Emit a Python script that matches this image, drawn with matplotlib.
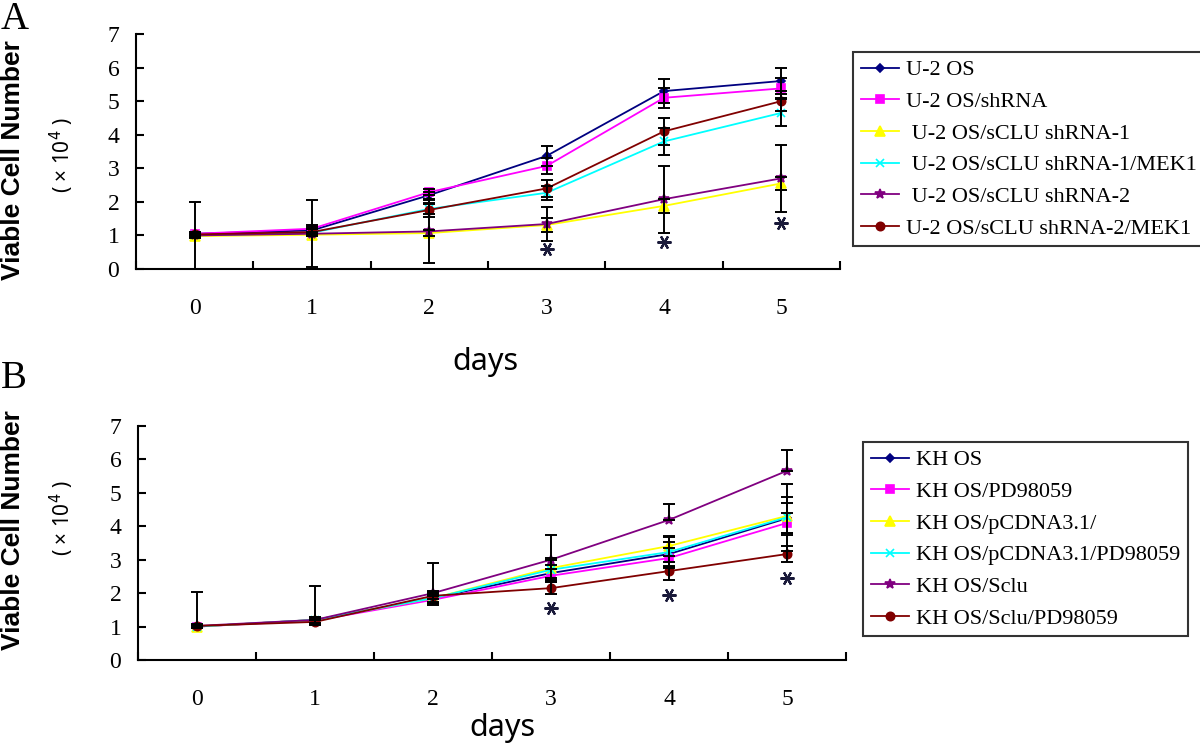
"""
Viable cell number growth curves, panels A and B
"""

import numpy as np
import matplotlib
matplotlib.use('Agg')
import matplotlib.pyplot as plt

DAYS = [0, 1, 2, 3, 4, 5]
DAY_LABELS = ['0', '1', '2', '3', '4', '5']
Y_TICKS = [0, 1, 2, 3, 4, 5, 6, 7]

# Panel A series (x10^4 cells)
A_LABELS = ['U-2 OS', 'U-2 OS/shRNA', ' U-2 OS/sCLU shRNA-1',
            ' U-2 OS/sCLU shRNA-1/MEK1', ' U-2 OS/sCLU shRNA-2',
            'U-2 OS/sCLU shRNA-2/MEK1']
A_U2OS = [1.05, 1.15, 2.20, 3.37, 5.30, 5.60]
A_SHRNA = [1.05, 1.20, 2.29, 3.07, 5.10, 5.38]
A_SCLU1 = [0.98, 1.02, 1.07, 1.31, 1.88, 2.55]
A_SCLU1_MEK = [1.00, 1.08, 1.79, 2.27, 3.80, 4.65]
A_SCLU2 = [1.00, 1.05, 1.12, 1.34, 2.08, 2.70]
A_SCLU2_MEK = [1.03, 1.10, 1.76, 2.40, 4.10, 5.00]

A_ERR_U2OS = [0.05, 0.10, 0.10, 0.30, 0.35, 0.40]
A_ERR_SHRNA = [0.05, 0.10, 0.10, 0.25, 0.30, 0.30]
A_ERR_SCLU1 = [0.05, 0.05, 0.10, 0.20, 0.20, 0.20]
A_ERR_SCLU1_MEK = [0.05, 0.10, 0.15, 0.20, 0.40, 0.40]
A_ERR_SCLU2 = [1.00, 1.00, 0.95, 0.50, 1.00, 1.00]
A_ERR_SCLU2_MEK = [0.05, 0.10, 0.20, 0.25, 0.40, 0.30]

A_STAR_DAYS = [3, 4, 5]
A_STAR_Y = [0.60, 0.80, 1.37]

# Panel B series
B_LABELS = ['KH OS', 'KH OS/PD98059', 'KH OS/pCDNA3.1/',
            'KH OS/pCDNA3.1/PD98059', 'KH OS/Sclu', 'KH OS/Sclu/PD98059']
B_KHOS = [1.00, 1.20, 1.85, 2.60, 3.17, 4.24]
B_PD = [1.00, 1.18, 1.80, 2.52, 3.05, 4.10]
B_PCDNA = [1.00, 1.20, 1.85, 2.75, 3.41, 4.31]
B_PCDNA_PD = [1.00, 1.20, 1.85, 2.70, 3.23, 4.27]
B_SCLU = [1.02, 1.20, 2.00, 3.00, 4.19, 5.66]
B_SCLU_PD = [1.02, 1.14, 1.92, 2.15, 2.66, 3.17]

B_ERR_KHOS = [0.05, 0.10, 0.10, 0.25, 0.35, 0.45]
B_ERR_PD = [0.05, 0.10, 0.10, 0.20, 0.30, 0.30]
B_ERR_PCDNA = [0.05, 0.10, 0.15, 0.30, 0.30, 0.56]
B_ERR_PCDNA_PD = [0.05, 0.10, 0.20, 0.30, 0.45, 1.00]
B_ERR_SCLU = [1.00, 1.00, 0.90, 0.74, 0.48, 0.63]   # plus direction only
B_ERR_SCLU_PD = [0.05, 0.10, 0.10, 0.17, 0.26, 0.25]

B_STAR_DAYS = [3, 4, 5]
B_STAR_Y = [1.55, 1.95, 2.45]

COLORS = ['#000080', '#FF00FF', '#FFFF00', '#00FFFF', '#800080', '#800000']
MARKERS = ['D', 's', '^', 'x', '*', 'o']
MSIZES = [4.5, 5.5, 6.5, 5.5, 7, 6]

SERIF = 'Liberation Serif'
SANS = 'Liberation Sans'


def draw_panel(ax, series, errors, labels, plus_only, star_days, star_y):
    x = np.array(DAYS)
    for i, (vals, err, lab) in enumerate(zip(series, errors, labels)):
        ax.plot(x, vals, color=COLORS[i], marker=MARKERS[i], ms=MSIZES[i],
                mew=1.2, lw=1.3, label=lab, zorder=3)
        err = np.array(err)
        if i in plus_only:
            yerr = [np.zeros_like(err), err]
        else:
            yerr = err
        ax.errorbar(x, vals, yerr=yerr, fmt='none', ecolor='black',
                    elinewidth=1.4, capsize=4, capthick=1.4, zorder=4)
    # significance asterisks
    ax.plot(star_days, star_y, ls='none', marker=(6, 2, 90), ms=10, mew=1.6,
            color='#1a1a3a', zorder=5)

    ax.set_xlim(-0.5, 5.5)
    ax.set_ylim(0, 7)
    ax.spines['top'].set_visible(False)
    ax.spines['right'].set_visible(False)
    for s in ['left', 'bottom']:
        ax.spines[s].set_linewidth(1.5)
    ax.set_xticks(x)
    ax.set_xticklabels(DAY_LABELS, family=SERIF, fontsize=17)
    ax.set_xticks(np.arange(-0.5, 6.0, 1.0), minor=True)
    ax.tick_params(axis='x', which='major', length=0, pad=21)
    ax.tick_params(axis='x', which='minor', direction='in', length=6, width=1.5)
    ax.set_yticks(Y_TICKS)
    ax.set_yticklabels([str(t) for t in Y_TICKS], family=SERIF, fontsize=17)
    ax.tick_params(axis='y', direction='in', length=6, width=1.5, pad=12)


fig = plt.figure(figsize=(12, 7.5), dpi=100)

axA = fig.add_axes([136 / 1200, 1 - 269 / 750, 704 / 1200, 235 / 750])
draw_panel(axA,
           [A_U2OS, A_SHRNA, A_SCLU1, A_SCLU1_MEK, A_SCLU2, A_SCLU2_MEK],
           [A_ERR_U2OS, A_ERR_SHRNA, A_ERR_SCLU1, A_ERR_SCLU1_MEK, A_ERR_SCLU2, A_ERR_SCLU2_MEK],
           A_LABELS, [], A_STAR_DAYS, A_STAR_Y)

axB = fig.add_axes([138 / 1200, 1 - 660 / 750, 708 / 1200, 234 / 750])
draw_panel(axB,
           [B_KHOS, B_PD, B_PCDNA, B_PCDNA_PD, B_SCLU, B_SCLU_PD],
           [B_ERR_KHOS, B_ERR_PD, B_ERR_PCDNA, B_ERR_PCDNA_PD, B_ERR_SCLU, B_ERR_SCLU_PD],
           B_LABELS, [4], B_STAR_DAYS, B_STAR_Y)

leg_kw = dict(loc='upper left', bbox_transform=fig.transFigure, frameon=True,
              fancybox=False, edgecolor='black', handlelength=1.7,
              handletextpad=0.35, labelspacing=0.5, borderpad=0.35,
              borderaxespad=0, prop={'family': SERIF, 'size': 16})
legA = axA.legend(bbox_to_anchor=(853 / 1200, 1 - 52 / 750), **leg_kw)
legB = axB.legend(bbox_to_anchor=(863 / 1200, 1 - 442 / 750), **leg_kw)
for leg in (legA, legB):
    leg.get_frame().set_linewidth(1.5)

# axis titles and panel letters
fig.text(485 / 1200, 1 - 362 / 750, 'days', ha='center', va='center',
         family='Noto Sans', fontsize=22)
fig.text(502 / 1200, 1 - 728 / 750, 'days', ha='center', va='center',
         family='Noto Sans', fontsize=22)
for yc, yx in [(160, 155), (530, 518)]:
    fig.text(13 / 1200, 1 - yc / 750, 'Viable Cell Number', rotation=90,
             ha='center', va='center', family=SANS, fontweight='bold', fontsize=19)
    fig.text(62 / 1200, 1 - yx / 750, '( × 10$^{4}$ )', rotation=90,
             ha='center', va='center', family='Noto Sans', fontsize=15)
fig.text(1 / 1200, 1 - 1 / 750, 'A', ha='left', va='top', family=SERIF,
         fontsize=28)
fig.text(1 / 1200, 1 - 360 / 750, 'B', ha='left', va='top', family=SERIF,
         fontsize=28)

plt.savefig('out.png', dpi=100)
plt.close()
